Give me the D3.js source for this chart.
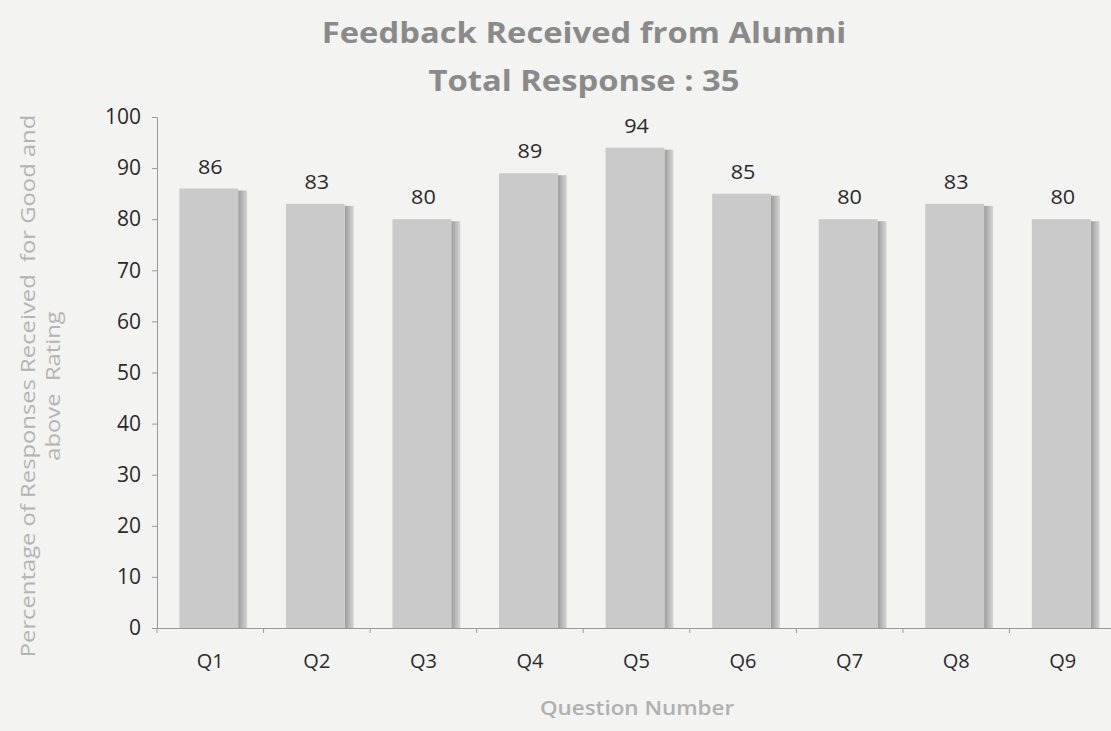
<!DOCTYPE html>
<html lang="en">
    <head>
        <meta charset="utf-8">
        <title>Feedback Received from Alumni</title>
        <script type="text/javascript" src="https://cdnjs.cloudflare.com/ajax/libs/d3/7.8.5/d3.min.js"></script>
        <style type="text/css">
            body { margin: 0; background: #f3f3f1; }
        </style>
    </head>
    <body>
        <script type="text/javascript">
            var questions = ["Q1", "Q2", "Q3", "Q4", "Q5", "Q6", "Q7", "Q8", "Q9"];
            var percents = [86, 83, 80, 89, 94, 85, 80, 83, 80];
            var yTicks = [0, 10, 20, 30, 40, 50, 60, 70, 80, 90, 100];

            var w = 1111;
            var h = 731;
            var font = "'Open Sans', sans-serif";

            var svg = d3.select("body")
                        .append("svg")
                        .attr("width", w)
                        .attr("height", h);

            svg.append("rect")
               .attr("width", w)
               .attr("height", h)
               .attr("fill", "#f3f3f1");

            // darker right edge of each bar
            var grad = svg.append("defs")
               .append("linearGradient")
               .attr("id", "edge")
               .attr("x1", "0").attr("x2", "1").attr("y1", "0").attr("y2", "0");
            grad.append("stop").attr("offset", "0%").attr("stop-color", "#9c9c9c");
            grad.append("stop").attr("offset", "100%").attr("stop-color", "#d6d6d6");

            var x = d3.scaleBand()
                      .domain(questions)
                      .range([157, 1116])
                      .paddingInner(0.42)
                      .paddingOuter(0.21);

            var y = d3.scaleLinear()
                      .domain([0, 100])
                      .range([628, 117]);

            var bars = svg.selectAll("g.bar")
               .data(percents)
               .enter()
               .append("g")
               .attr("class", "bar");

            bars.append("rect")
               .attr("x", function (d, i) { return x(questions[i]) + x.bandwidth() - 3; })
               .attr("y", function (d) { return y(d) + 2; })
               .attr("width", 9)
               .attr("height", function (d) { return y(0) - y(d) - 2; })
               .attr("fill", "url(#edge)");

            bars.append("rect")
               .attr("x", function (d, i) { return x(questions[i]); })
               .attr("y", function (d) { return y(d); })
               .attr("width", x.bandwidth() - 3)
               .attr("height", function (d) { return y(0) - y(d); })
               .attr("fill", "#cacaca");

            bars.append("text")
               .text(function (d) { return d; })
               .attr("transform", function (d, i) {
                   return "translate(" + (x(questions[i]) + x.bandwidth() / 2) + "," + (y(d) - 15) + ") scale(1.08,1)";
               })
               .attr("text-anchor", "middle")
               .attr("font-family", font)
               .attr("font-size", "20px")
               .attr("fill", "#2a2a2a");

            // y axis
            var yAxis = svg.append("g")
               .attr("transform", "translate(157,0)")
               .call(d3.axisLeft(y).tickValues(yTicks).tickSize(5).tickPadding(11));
            yAxis.select(".domain").attr("stroke", "#9a9a9a");
            yAxis.selectAll(".tick line").attr("stroke", "#9a9a9a");
            yAxis.selectAll("text")
                 .attr("font-family", font)
                 .attr("font-size", "21px")
                 .attr("fill", "#2a2a2a");

            // x axis, ticks between bands
            var xAxis = svg.append("g")
               .attr("transform", "translate(0,628)")
               .call(d3.axisBottom(x).tickSize(0).tickPadding(26));
            xAxis.select(".domain").attr("stroke", "#9a9a9a");
            xAxis.selectAll("text")
                 .attr("font-family", font)
                 .attr("font-size", "20px")
                 .attr("fill", "#2a2a2a");
            var step = x.step();
            xAxis.selectAll("line.sep")
                 .data(questions)
                 .enter()
                 .append("line")
                 .attr("class", "sep")
                 .attr("x1", function (d) { return x(d) - step * x.paddingInner() / 2; })
                 .attr("x2", function (d) { return x(d) - step * x.paddingInner() / 2; })
                 .attr("y1", 0)
                 .attr("y2", 5)
                 .attr("stroke", "#9a9a9a");

            // titles, stretched a little to match the wide lettering of the original
            svg.append("text")
               .text("Feedback Received from Alumni")
               .attr("transform", "translate(584,43) scale(1.13,1)")
               .attr("text-anchor", "middle")
               .attr("font-family", font)
               .attr("font-weight", "bold")
               .attr("font-size", "29px")
               .attr("fill", "#8a8a8a");

            svg.append("text")
               .text("Total Response : 35")
               .attr("transform", "translate(584,91) scale(1.13,1)")
               .attr("text-anchor", "middle")
               .attr("font-family", font)
               .attr("font-weight", "bold")
               .attr("font-size", "29px")
               .attr("fill", "#8a8a8a");

            svg.append("text")
               .text("Question Number")
               .attr("transform", "translate(637,715) scale(1.18,1)")
               .attr("text-anchor", "middle")
               .attr("font-family", font)
               .attr("font-weight", "600")
               .attr("font-size", "19px")
               .attr("fill", "#b0b0b0");

            var yLabel = svg.append("text")
               .attr("transform", "translate(35,386) rotate(-90) scale(1.19,1)")
               .attr("text-anchor", "middle")
               .attr("font-family", font)
               .attr("font-size", "20px")
               .attr("fill", "#b4b4b4");
            yLabel.append("tspan")
               .attr("x", 0)
               .attr("y", 0)
               .attr("xml:space", "preserve")
               .text("Percentage of Responses Received  for Good and");
            yLabel.append("tspan")
               .attr("x", 0)
               .attr("y", 25)
               .attr("xml:space", "preserve")
               .text("above  Rating");
        </script>
    </body>
</html>
